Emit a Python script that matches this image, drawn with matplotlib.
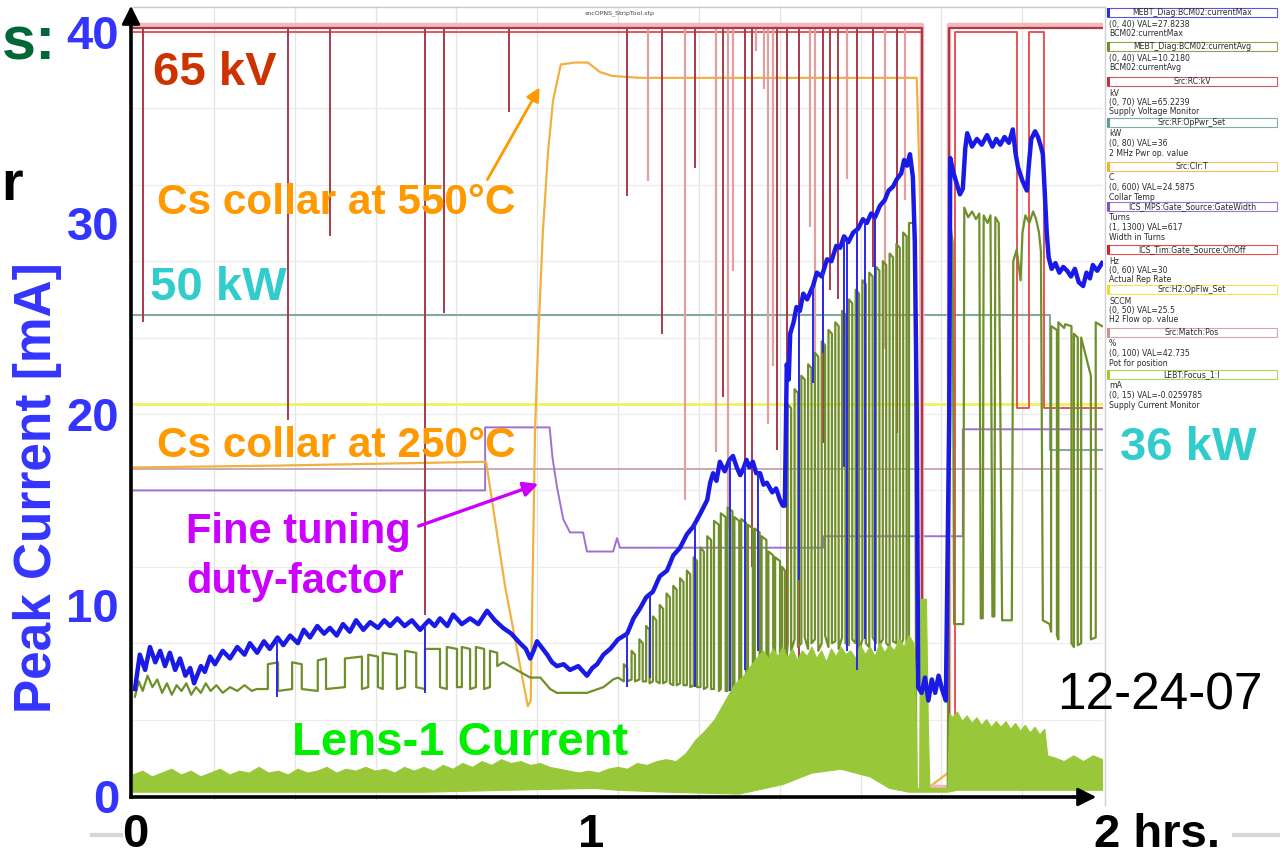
import numpy as np
import matplotlib
matplotlib.use('Agg')
import matplotlib.pyplot as plt
from matplotlib.patches import Rectangle
from matplotlib.lines import Line2D

plt.rcParams['font.family'] = ['Liberation Sans', 'DejaVu Sans']

# ---------------- data (time in hours, values in mA-equivalent) ----------------
blue_t = [0.004,0.014,0.025,0.035,0.046,0.056,0.066,0.076,0.087,0.097,0.108,0.118,0.126,0.132,0.140,0.148,0.159,0.169,0.185,0.200,
          0.215,0.230,0.241,0.256,0.270,0.282,0.298,0.310,0.324,0.340,0.352,0.365,0.380,0.394,0.406,0.420,0.433,0.447,0.460,0.475,
          0.489,0.505,0.518,0.530,0.545,0.560,0.575,0.592,0.610,0.622,0.633,0.648,0.660,0.678,0.695,0.712,0.730,0.746,0.763,0.780,
          0.798,0.810,0.819,0.826,0.833,0.845,0.854,0.864,0.874,0.888,0.901,0.918,0.936,0.947,0.957,0.970,0.984,1.000,1.019,1.032,
          1.045,1.058,1.072,1.086,1.101,1.114,1.128,1.142,1.155,1.170,1.184,1.190,1.196,1.203,1.210,1.220,1.230,1.237,1.245,1.252,
          1.258,1.265,1.271,1.278,1.285,1.293,1.300,1.307,1.318,1.326,1.334,1.340,1.344,1.346,1.348,1.352,1.355,1.362,1.368,1.375,
          1.382,1.390,1.402,1.410,1.420,1.431,1.440,1.450,1.458,1.466,1.475,1.485,1.495,1.505,1.513,1.522,1.530,1.540,1.550,1.558,
          1.567,1.575,1.584,1.590,1.596,1.602,1.608,1.612,1.616,1.619,1.626,1.633,1.640,1.647,1.654,1.661,1.668,1.676,1.683,1.685,
          1.692,1.699,1.705,1.711,1.716,1.720,1.730,1.740,1.750,1.761,1.772,1.780,1.788,1.797,1.806,1.814,1.820,1.825,1.834,1.843,
          1.847,1.852,1.860,1.866,1.872,1.876,1.880,1.884,1.888,1.894,1.902,1.910,1.918,1.926,1.934,1.942,1.950,1.959,1.966,1.973,
          1.979,1.988,1.998]
blue_v = [5.6,7.4,6.6,7.8,7.0,7.6,6.8,7.5,6.6,7.2,6.3,6.7,5.9,6.3,6.8,6.5,7.3,6.9,7.6,7.2,
          7.8,7.4,8.0,7.5,8.1,7.7,8.3,7.9,8.4,8.0,8.7,8.3,8.9,8.5,8.8,8.4,9.0,8.6,9.2,8.7,
          9.1,8.8,9.2,8.9,9.3,8.9,9.2,8.7,9.2,8.9,9.3,8.9,9.5,9.0,9.3,9.0,9.7,9.2,8.8,8.5,
          8.0,7.7,7.2,7.6,8.1,7.7,7.4,7.0,6.8,6.9,6.6,6.8,6.3,6.7,6.9,7.4,7.7,8.2,8.5,9.3,
          9.8,10.4,10.7,11.5,11.8,12.6,13.0,13.7,14.1,14.8,15.5,16.4,16.9,16.5,17.5,17.0,17.6,17.8,17.2,16.8,
          17.1,17.6,17.2,17.5,16.9,16.9,16.3,16.4,15.9,16.1,15.5,15.2,15.2,19.0,22.6,21.8,24.2,24.8,25.6,25.4,
          26.3,26.0,26.7,27.4,27.2,28.1,28.0,28.8,28.7,29.3,29.0,29.5,29.7,30.2,30.0,30.5,30.3,30.9,31.2,31.7,
          31.9,32.3,32.6,33.3,33.0,33.6,32.4,29.0,20.0,5.7,5.4,6.2,5.0,6.1,5.4,6.3,5.6,5.0,20.0,33.4,
          32.6,32.0,31.5,31.8,33.9,34.7,34.0,34.4,34.1,34.6,34.0,34.4,34.1,34.5,34.2,34.9,33.6,32.9,32.2,31.7,
          33.0,34.4,34.8,34.5,34.0,33.6,31.5,29.5,28.2,27.6,27.9,27.4,27.7,27.5,27.2,27.6,26.9,26.7,27.4,27.1,
          27.8,27.5,27.9]
blue_spike_t = [0.297,0.602,1.019,1.066,1.159,1.231,1.262,1.289,1.373,1.402,1.423,1.466,1.472,1.493,1.509,1.530]
blue_spike_lo = [5.2,5.4,5.7,6.2,5.7,5.5,6.6,7.6,11.3,21.6,23.2,17.2,7.6,6.6,8.2,7.6]

olive_t = [0.004,0.012,0.020,0.030,0.040,0.050,0.060,0.070,0.080,0.090,0.100,0.110,0.120,0.130,0.140,0.150,0.160,0.172,0.185,0.200,0.215,0.230,0.245,0.255,
           0.278,0.278,0.299,0.299,0.328,0.328,0.348,0.348,0.381,0.381,0.398,0.398,0.437,0.437,0.472,0.472,0.485,0.485,0.505,0.505,
           0.515,0.515,0.544,0.544,0.561,0.561,0.584,0.584,0.602,0.602,0.633,0.633,0.647,0.647,0.668,0.668,0.678,0.678,0.695,0.695,
           0.707,0.707,0.724,0.724,0.736,0.736,0.751,0.751,
           0.763,0.777,0.798,0.819,0.840,0.860,0.874,0.900,0.936,0.970,0.990,1.000,
           1.012,1.012,1.019,1.019,1.028,1.028,1.035,1.035,1.044,1.044,1.051,1.051,1.058,1.058,1.065,1.065,1.072,1.072,1.079,1.079,
           1.086,1.086,1.093,1.093,1.100,1.100,1.107,1.107,1.114,1.114,1.121,1.121,1.128,1.128,1.135,1.135,1.142,1.142,1.149,1.149,
           1.156,1.156,1.163,1.163,1.170,1.170,1.177,1.177,1.184,1.184,1.192,1.192,1.198,1.198,1.208,1.208,1.212,1.212,1.222,1.222,
           1.226,1.226,1.236,1.236,1.240,1.240,1.250,1.250,1.254,1.254,1.264,1.264,1.268,1.268,1.278,1.278,1.282,1.282,1.292,1.292,
           1.296,1.296,1.306,1.306,1.310,1.310,1.320,1.320,1.324,1.324,1.334,1.334,1.338,1.338,1.344,1.344,
           1.350,1.350,1.357,1.357,1.364,1.364,1.371,1.371,1.378,1.378,1.385,1.385,1.392,1.392,1.399,1.399,1.406,1.406,1.413,1.413,
           1.420,1.420,1.427,1.427,1.434,1.434,1.441,1.441,1.448,1.448,1.455,1.455,1.462,1.462,1.469,1.469,1.476,1.476,1.483,1.483,
           1.490,1.490,1.497,1.497,1.504,1.504,1.511,1.511,1.518,1.518,1.525,1.525,1.532,1.532,1.539,1.539,1.546,1.546,1.553,1.553,
           1.560,1.560,1.567,1.567,1.574,1.574,1.581,1.581,1.588,1.588,1.595,1.595,1.600,1.600,1.612,1.615,1.680,
           1.685,1.690,1.693,1.712,1.714,1.722,1.730,1.738,1.745,1.748,1.752,1.754,1.762,1.768,1.772,1.776,1.778,1.785,1.792,1.812,
           1.815,1.822,1.826,1.830,1.834,1.840,1.848,1.856,1.862,1.868,1.872,1.876,1.890,
           1.893,1.893,1.905,1.905,1.908,1.908,1.920,1.922,1.935,1.935,1.940,1.940,1.948,1.948,1.955,1.955,1.965,1.975,1.975,1.985,1.985,1.998]
olive_v = [5.2,6.0,5.5,6.3,5.7,6.1,5.4,5.9,5.3,5.8,5.5,5.9,5.3,5.7,5.4,5.9,5.5,5.8,5.4,5.7,5.5,5.8,5.5,5.6,
           5.6,6.9,7.0,5.5,5.6,7.0,6.9,5.6,5.5,7.1,7.2,5.6,5.7,7.2,7.3,5.6,5.7,7.4,7.3,5.7,
           5.6,7.5,7.4,5.6,5.7,7.6,7.5,5.7,5.6,7.7,7.7,5.7,5.6,7.8,7.7,5.7,5.7,7.8,7.7,5.6,
           5.7,7.8,7.7,5.6,5.7,7.6,7.5,6.8,
           7.0,6.8,6.5,6.2,6.2,5.6,5.4,5.4,5.4,5.7,6.1,6.2,
           6.0,6.9,6.7,6.0,6.1,7.6,7.4,6.0,6.1,8.2,8.0,6.0,6.0,8.9,8.7,5.9,6.0,9.4,9.2,6.0,
           5.9,10.0,9.8,5.9,6.0,10.6,10.4,5.9,5.8,11.0,10.8,5.8,5.9,11.4,11.2,5.8,5.8,11.8,11.6,5.7,
           5.8,12.5,12.3,5.7,5.7,13.0,12.8,5.6,5.7,13.6,13.4,5.6,5.6,14.4,14.2,5.5,5.6,14.8,14.6,5.5,
           5.5,15.1,14.9,5.4,5.5,14.6,14.4,5.4,5.5,14.5,14.3,5.4,5.5,14.2,14.0,5.4,5.5,14.0,13.8,5.4,
           5.5,13.6,13.4,5.4,5.5,12.8,12.6,5.4,5.5,12.5,12.3,5.4,5.5,12.0,11.8,6.0,
           8.0,20.5,20.3,7.6,8.2,21.3,21.1,7.8,8.0,22.0,21.8,8.3,7.7,22.6,22.4,8.0,8.2,23.2,23.0,7.6,
           8.0,23.8,23.6,8.4,7.8,24.4,24.2,8.0,8.1,24.8,24.6,7.7,8.3,25.4,25.2,8.0,7.9,26.0,25.8,8.2,
           8.0,26.5,26.3,7.6,8.2,27.0,26.8,8.0,7.8,27.4,27.2,8.3,8.0,27.7,27.5,7.9,8.2,28.0,27.8,8.0,
           7.8,28.4,28.2,8.1,8.0,28.9,28.7,7.8,8.2,29.5,29.3,8.0,8.0,30.0,30.0,0.3,0.3,
           30.0,29.0,9.0,9.0,30.8,30.3,30.6,30.2,30.5,9.3,9.3,30.4,30.0,30.4,9.4,9.4,30.3,30.0,9.2,9.2,
           28.0,28.6,27.8,27.0,29.5,30.4,30.0,30.6,30.2,29.5,28.5,9.2,9.0,
           8.6,24.6,24.4,8.4,8.2,24.8,24.5,24.7,24.6,8.0,7.8,24.2,24.0,7.9,8.0,24.0,23.0,22.0,8.2,8.3,24.8,24.6]

lens_t = [0.00,0.02,0.04,0.06,0.08,0.10,0.12,0.14,0.16,0.18,0.20,0.22,0.24,0.26,0.28,0.30,0.32,0.34,0.36,0.38,
          0.40,0.42,0.44,0.46,0.48,0.50,0.52,0.54,0.56,0.58,0.60,0.62,0.64,0.66,0.68,0.70,0.72,0.74,0.76,0.78,
          0.80,0.82,0.84,0.86,0.88,0.90,0.92,0.94,0.96,0.98,1.00,1.02,1.04,1.06,1.08,1.10,1.12,1.14,1.16,1.18,
          1.20,1.22,1.24,1.26,1.28,1.30,1.31,1.32,1.33,1.34,1.35,1.36,1.37,1.38,1.39,1.40,1.41,1.42,1.43,1.44,
          1.45,1.46,1.47,1.48,1.49,1.50,1.51,1.52,1.53,1.54,1.55,1.56,1.57,1.58,1.59,1.60,1.610,1.614,1.617,1.622,
          1.624,1.636,1.640,1.643,1.680,1.684,1.69,1.70,1.71,1.72,1.73,1.74,1.75,1.76,1.77,1.78,1.79,1.80,1.81,1.82,
          1.83,1.84,1.85,1.86,1.870,1.880,1.886,1.90,1.92,1.94,1.96,1.98,2.00]
lens_hi = [1.1,1.3,1.0,1.2,1.4,1.1,1.3,1.0,1.2,1.4,1.1,1.3,1.2,1.5,1.2,1.3,1.1,1.4,1.2,1.3,
           1.5,1.2,1.4,1.3,1.5,1.3,1.4,1.2,1.5,1.3,1.5,1.3,1.6,1.4,1.7,1.5,1.8,1.6,1.9,1.7,
           1.8,1.6,1.7,1.5,1.4,1.3,1.2,1.3,1.2,1.4,1.5,1.4,1.7,1.6,1.8,1.9,1.8,2.2,2.9,3.4,
           4.0,4.9,5.8,6.3,7.0,7.6,7.2,7.7,7.3,7.8,7.2,7.7,7.1,7.6,7.3,7.8,7.2,7.6,7.0,7.7,
           7.3,7.8,7.4,7.6,7.2,7.9,7.4,7.8,7.3,8.0,7.5,7.9,7.6,8.2,7.8,8.4,8.0,6.0,0.4,0.4,
           10.3,10.3,3.5,0.4,0.4,4.3,4.1,4.4,3.9,4.2,3.8,4.1,3.7,4.0,3.6,3.9,3.6,3.9,3.5,3.8,
           3.4,3.7,3.3,3.6,3.2,3.5,2.1,2.0,1.8,2.1,1.8,2.1,1.9]
lens_lo_t = [0.00,0.60,0.95,1.00,1.10,1.25,1.34,1.40,1.46,1.52,1.56,1.60,1.614,1.64,1.68,1.70,2.00]
lens_lo_v = [0.2,0.2,0.4,0.3,0.2,0.1,0.6,1.2,1.4,1.0,0.4,0.2,0.2,0.2,0.2,0.3,0.3]

orange_t = [0.0,0.30,0.728,0.767,0.814,0.820,0.829,0.836,0.845,0.856,0.866,0.882,0.911,0.938,0.963,0.988,1.045,1.375,1.616,1.623,1.627,1.633,1.68,2.0]
orange_v = [17.2,17.3,17.5,11.0,4.7,5.0,19.2,24.2,29.5,33.8,36.4,38.3,38.4,38.4,37.9,37.7,37.6,37.6,37.6,31.2,0.8,0.3,1.2,1.6]

purple_t = [0.0,0.726,0.726,0.859,0.865,0.874,0.887,0.901,0.928,0.936,0.990,0.998,1.004,1.010,1.423,1.423,1.711,1.711,2.0]
purple_v = [16.0,16.0,19.3,19.3,17.7,16.2,14.5,13.8,13.8,12.8,12.8,13.5,13.0,13.0,13.0,13.6,13.6,19.2,19.2]

rfpwr_t = [0.0,1.891,1.891,2.0]
rfpwr_v = [25.2,25.2,18.1,18.1]
h2flow_v = 20.5
matchpos_v = 17.1

kv_t = [0.0,1.626,1.626,1.682,1.682,2.0]
kv_v = [40.2,40.2,0.3,0.3,40.2,40.2]
kv_spike_t = [0.021,0.320,0.406,0.602,0.641,0.775,1.019,1.091,1.159,1.216,1.262,1.276,1.328,1.348,1.373,1.423,1.437,1.454,1.493,1.526,1.575]
kv_spike_lo = [24.8,19.7,29.3,9.5,25.3,35.8,31.4,24.2,32.9,20.9,17.6,12.0,18.1,5.0,6.0,18.5,26.5,26.0,26.5,27.7,19.0]
kv2_spike_t = [1.062,1.138,1.202,1.227,1.237,1.285,1.301,1.309,1.320,1.396,1.406,1.472,1.551,1.592]
kv2_spike_lo = [32.2,15.5,18.0,14.0,27.5,39.0,37.0,19.5,22.5,29.8,15.0,32.3,23.4,31.2]

rep_t = [0.0,1.626,1.626,1.695,1.695,1.823,1.823,1.847,1.847,1.878,1.878,2.0]
rep_v = [40.0,40.0,0.3,0.3,40.0,40.0,20.3,20.3,40.0,40.0,20.3,20.3]

ytick_vals = [0, 10, 20, 30, 40]

legend_entries = [
    ("MEBT_Diag:BCM02:currentMax", "#2a2ae0", ["(0, 40) VAL=27.8238", "BCM02:currentMax"]),
    ("MEBT_Diag:BCM02:currentAvg", "#6f8f2a", ["(0, 40) VAL=10.2180", "BCM02:currentAvg"]),
    ("Src:RC:kV", "#c03040", ["kV", "(0, 70) VAL=65.2239", "Supply Voltage Monitor"]),
    ("Src:RF:OpPwr_Set", "#5f9a90", ["kW", "(0, 80) VAL=36", "2 MHz Pwr op. value"]),
    ("Src:Clr:T", "#f0b030", ["C", "(0, 600) VAL=24.5875", "Collar Temp"]),
    ("ICS_MPS:Gate_Source:GateWidth", "#8050d0", ["Turns", "(1, 1300) VAL=617", "Width in Turns"]),
    ("ICS_Tim:Gate_Source:OnOff", "#e02020", ["Hz", "(0, 60) VAL=30", "Actual Rep Rate"]),
    ("Src:H2:OpFlw_Set", "#e8e020", ["SCCM", "(0, 50) VAL=25.5", "H2 Flow op. value"]),
    ("Src:Match:Pos", "#d09090", ["%", "(0, 100) VAL=42.735", "Pot for position"]),
    ("LEBT:Focus_1:I", "#a0c830", ["mA", "(0, 15) VAL=-0.0259785", "Supply Current Monitor"]),
]

# ---------------- figure ----------------
W, H = 1280, 859
fig = plt.figure(figsize=(12.8, 8.59), dpi=100)
fig.patch.set_facecolor('white')

def fx(px):
    return px / W

def fy(py):
    return 1 - py / H

ax = fig.add_axes([fx(133), fy(800), (1103 - 133) / W, (800 - 6) / H])
ax.set_xlim(0, 2.0)
ax.set_ylim((796 - 800) / 19.1, (796 - 6) / 19.1)
ax.set_facecolor('white')
for s in ax.spines.values():
    s.set_visible(False)
ax.set_xticks([])
ax.set_yticks(ytick_vals)
ax.set_yticklabels([str(v) for v in ytick_vals], color='#3434ff', fontsize=34,
                   fontweight='bold')
ax.tick_params(axis='y', length=0, pad=10)

# faint grid
for g in np.arange(1, 12) / 6.0:
    ax.axvline(g, color='#e4e4e4', lw=0.9, zorder=0.5)
for g in np.arange(4, 40, 4):
    ax.axhline(g, color='#ececec', lw=0.9, zorder=0.5)

# constant-ish setpoint traces
ax.axhline(h2flow_v, color='#f2f060', lw=2.0, zorder=1)
ax.axhline(matchpos_v, color='#c9a9b4', lw=1.4, zorder=1)
ax.plot(rfpwr_t, rfpwr_v, color='#86a8a0', lw=1.5, zorder=1.1)
ax.plot(purple_t, purple_v, color='#a070d0', lw=1.4, zorder=1.2)
ax.plot(orange_t, orange_v, color='#f2b040', lw=1.6, zorder=1.3)

# top red traces
ax.plot(kv_t, [v + 0.15 for v in kv_v], color='#f3b8b8', lw=3.2, zorder=1.4)
ax.plot(rep_t, rep_v, color='#e84848', lw=1.3, zorder=1.6)
ax.plot(kv_t, kv_v, color='#a83a4c', lw=1.6, zorder=1.7)
ax.vlines(kv_spike_t, kv_spike_lo, 40.2, color='#a83a4c', lw=1.4, zorder=1.7)
ax.vlines(kv2_spike_t, kv2_spike_lo, 40.2, color='#e0a0a0', lw=1.6, zorder=1.65)

# currents
ax.plot(olive_t, olive_v, color='#6f8f2a', lw=1.6, zorder=2)
ax.fill(np.concatenate([lens_t, lens_lo_t[::-1]]),
        np.concatenate([lens_hi, lens_lo_v[::-1]]),
        color='#98c83a', lw=0.8, zorder=2.2)
ax.plot(blue_t, blue_v, color='#1a1ae6', lw=3.2, zorder=3)
ax.vlines(blue_spike_t, blue_spike_lo, np.interp(blue_spike_t, blue_t, blue_v),
          color='#2a2ae6', lw=1.4, zorder=3)

# strip chart frame & title bar
fig.add_artist(Line2D([fx(133), fx(1105)], [fy(7), fy(7)], color='#c8c8c8', lw=1.0))
fig.add_artist(Line2D([fx(1105), fx(1105)], [fy(7), fy(805)], color='#d0d0d0', lw=1.0))
fig.text(fx(620), fy(13), 'sncOPNS_StripTool.stp', fontsize=4.5, color='#444444',
         ha='center', va='center', family='DejaVu Sans')

# black axis arrows
fig.add_artist(Line2D([fx(131), fx(1080)], [fy(797), fy(797)], color='black', lw=2.6))
fig.add_artist(Line2D([fx(131), fx(131)], [fy(797), fy(24)], color='black', lw=2.6))
ax.annotate('', xy=(fx(1099), fy(797)), xytext=(fx(1070), fy(797)),
            xycoords='figure fraction', textcoords='figure fraction',
            arrowprops=dict(arrowstyle='-|>', color='black', lw=2.0, mutation_scale=28))
ax.annotate('', xy=(fx(131), fy(3)), xytext=(fx(131), fy(30)),
            xycoords='figure fraction', textcoords='figure fraction',
            arrowprops=dict(arrowstyle='-|>', color='black', lw=2.0, mutation_scale=28))

# x labels (slide text under the strip chart)
fig.text(fx(135), fy(857), '0', fontsize=34, fontweight='bold', ha='center', va='bottom')
fig.text(fx(591), fy(857), '1', fontsize=34, fontweight='bold', ha='center', va='bottom')
fig.text(fx(1094), fy(857), '2 hrs.', fontsize=34, fontweight='bold', ha='left', va='bottom')
fig.add_artist(Line2D([fx(92), fx(121)], [fy(835), fy(835)], color='#d6d6d6', lw=3))
fig.add_artist(Line2D([fx(1234), fx(1280)], [fy(835), fy(835)], color='#d6d6d6', lw=3))

# y label
fig.text(fx(38), fy(488), 'Peak Current [mA]', rotation=90, fontsize=37, fontweight='bold',
         color='#3434ff', ha='center', va='center')
# slide remnants (kept fully inside the canvas)
fig.text(fx(2), fy(60), 's:', fontsize=44, fontweight='bold', color='#006838', ha='left', va='baseline')
fig.text(fx(1), fy(200), 'r', fontsize=40, fontweight='bold', color='black', ha='left', va='baseline')

# annotations
fig.text(fx(153), fy(85), '65 kV', fontsize=34, fontweight='bold', color='#cc3300', va='baseline')
fig.text(fx(157), fy(214), 'Cs collar at 550\u00b0C', fontsize=30.5, fontweight='bold', color='#ff9900', va='baseline')
fig.text(fx(150), fy(300), '50 kW', fontsize=34, fontweight='bold', color='#33cccc', va='baseline')
fig.text(fx(157), fy(457), 'Cs collar at 250\u00b0C', fontsize=30.5, fontweight='bold', color='#ff9900', va='baseline')
fig.text(fx(186), fy(543), 'Fine tuning', fontsize=30, fontweight='bold', color='#cc00ff', va='baseline')
fig.text(fx(186), fy(593), 'duty-factor', fontsize=30, fontweight='bold', color='#cc00ff', va='baseline')
fig.text(fx(292), fy(755), 'Lens-1 Current', fontsize=34, fontweight='bold', color='#00ee00', va='baseline')
fig.text(fx(1120), fy(460), '36 kW', fontsize=34, fontweight='bold', color='#33cccc', va='baseline')
fig.text(fx(1057), fy(710), '12-24-07', fontsize=37, color='black', va='baseline')

ax.annotate('', xy=(fx(541), fy(85)), xytext=(fx(486), fy(182)),
            xycoords='figure fraction', textcoords='figure fraction',
            arrowprops=dict(arrowstyle='-|>', color='#ff9900', lw=2.0, mutation_scale=20))
ax.annotate('', xy=(fx(541), fy(483)), xytext=(fx(416), fy(527)),
            xycoords='figure fraction', textcoords='figure fraction',
            arrowprops=dict(arrowstyle='-|>', color='#cc00ff', lw=2.4, mutation_scale=22))

# legend panel
box_tops = [8, 42, 77, 118, 162, 202, 245, 285, 328, 370]
for (name, col, lines), top in zip(legend_entries, box_tops):
    fig.add_artist(Rectangle((fx(1107), fy(top + 9)), (1277 - 1107) / W, 9 / H,
                             facecolor='white', edgecolor=col, lw=0.8, alpha=0.8))
    fig.add_artist(Rectangle((fx(1107), fy(top + 9)), 3 / W, 9 / H,
                             facecolor=col, edgecolor='none'))
    fig.text(fx(1192), fy(top + 4.5), name, fontsize=5.6, color='#2a2a2a',
             ha='center', va='center', family='DejaVu Sans')
    for i, ln in enumerate(lines):
        fig.text(fx(1109), fy(top + 16 + 9.5 * i), ln, fontsize=5.6, color='#2a2a2a',
                 ha='left', va='center', family='DejaVu Sans')

fig.savefig('out.png', dpi=100, facecolor='white')
